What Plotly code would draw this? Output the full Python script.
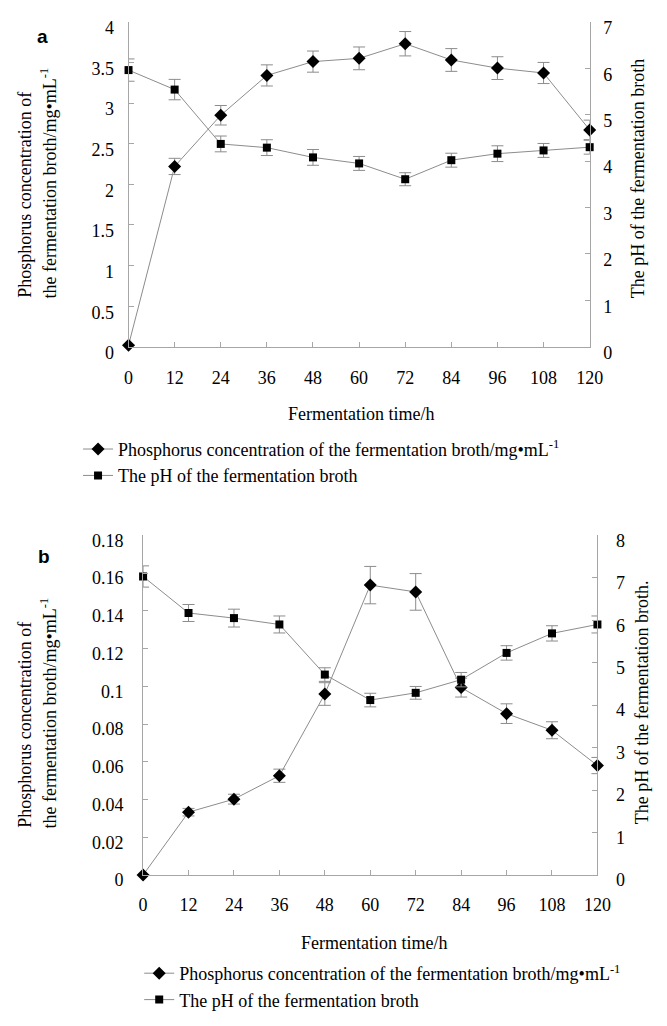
import plotly.graph_objects as go

# ---------------- data ----------------
time_h = [0, 12, 24, 36, 48, 60, 72, 84, 96, 108, 120]

a_phos = [0.02, 2.22, 2.85, 3.34, 3.51, 3.55, 3.73, 3.53, 3.43, 3.37, 2.67]
a_phos_err = [0.0, 0.10, 0.12, 0.13, 0.13, 0.14, 0.15, 0.14, 0.14, 0.13, 0.12]
a_ph = [5.96, 5.54, 4.37, 4.29, 4.08, 3.95, 3.61, 4.02, 4.16, 4.23, 4.30]
a_ph_err = [0.24, 0.22, 0.17, 0.17, 0.17, 0.15, 0.14, 0.15, 0.17, 0.15, 0.15]

b_phos = [0.0, 0.0333, 0.0402, 0.0526, 0.0959, 0.1536, 0.150, 0.0993, 0.0855, 0.0767, 0.058]
b_phos_err = [0.0, 0.002, 0.0026, 0.0035, 0.006, 0.0099, 0.0097, 0.005, 0.0052, 0.0045, 0.0043]
b_ph = [7.03, 6.17, 6.05, 5.90, 4.72, 4.12, 4.29, 4.60, 5.23, 5.69, 5.90]
b_ph_err = [0.25, 0.20, 0.21, 0.20, 0.16, 0.16, 0.15, 0.17, 0.17, 0.18, 0.20]

name_phos = "Phosphorus concentration of the fermentation broth/mg•mL<sup>-1</sup>"
name_ph = "The pH of the fermentation broth"

# ---------------- geometry helpers ----------------
# page body has an 8px default margin, so the figure is 16px smaller than the window
PAD = 8
W, H = 667 - 2 * PAD, 1026 - 2 * PAD
def fx(px):
    return (px - PAD) / W
def fy(py):
    return 1 - (py - PAD) / H

SERIF = "Liberation Serif"
LINE = "#8c8c8c"
AX = "#a6a6a6"

def series(x, y, err, xa, ya, symbol, size, name, legend):
    return go.Scatter(
        x=x, y=y, xaxis=xa, yaxis=ya, name=name, legend=legend,
        mode="lines+markers", cliponaxis=False,
        line=dict(color=LINE, width=1),
        marker=dict(symbol=symbol, size=size, color="black"),
        error_y=dict(type="data", array=err, color=LINE, thickness=1, width=6),
    )

fig = go.Figure()
fig.add_trace(series(time_h, a_phos, a_phos_err, "x", "y", "diamond", 10, name_phos, "legend"))
fig.add_trace(series(time_h, a_ph, a_ph_err, "x", "y2", "square", 8, name_ph, "legend"))
fig.add_trace(series(time_h, b_phos, b_phos_err, "x2", "y3", "diamond", 10, name_phos, "legend2"))
fig.add_trace(series(time_h, b_ph, b_ph_err, "x2", "y4", "square", 8, name_ph, "legend2"))

tickfont = dict(family=SERIF, size=18, color="black")
common = dict(showline=True, linecolor=AX, linewidth=1, ticks="inside", ticklen=5,
              tickcolor=AX, showgrid=False, zeroline=False, tickfont=tickfont)

fig.update_layout(
    width=W, height=H, margin=dict(l=0, r=0, t=0, b=0),
    paper_bgcolor="white", plot_bgcolor="white",
    font=dict(family=SERIF, size=18, color="black"),
    xaxis=dict(domain=[fx(127), fx(602)], range=[0, 120], tickvals=time_h,
               anchor="y", ticklabelstandoff=15, **common),
    yaxis=dict(domain=[fy(350), fy(17)], range=[0, 4], dtick=0.5, anchor="x",
               ticklabelstandoff=10, ticklabelshift=6, **common),
    yaxis2=dict(domain=[fy(350), fy(17)], range=[0, 7], dtick=1, anchor="x",
                overlaying="y", side="right", ticklabelstandoff=9, ticklabelshift=6, **common),
    xaxis2=dict(domain=[fx(142), fx(610)], range=[0, 120], tickvals=time_h,
                anchor="y3", ticklabelstandoff=13, **common),
    yaxis3=dict(domain=[fy(891), fy(543)], range=[0, 0.18], dtick=0.02, anchor="x2",
                ticklabelstandoff=15, ticklabelshift=5, **common),
    yaxis4=dict(domain=[fy(891), fy(543)], range=[0, 8], dtick=1, anchor="x2",
                overlaying="y3", side="right", ticklabelstandoff=14, ticklabelshift=5, **common),
    legend=dict(x=fx(75), y=fy(436), xanchor="left", yanchor="top",
                font=dict(family=SERIF, size=18, color="black"),
                bgcolor="rgba(0,0,0,0)", itemwidth=30),
    legend2=dict(x=fx(138), y=fy(973), xanchor="left", yanchor="top",
                 font=dict(family=SERIF, size=18, color="black"),
                 bgcolor="rgba(0,0,0,0)", itemwidth=30),
    showlegend=True,
)

def ann(text, x, y, xanchor="center", yanchor="middle", angle=0, font=None):
    fig.add_annotation(text=text, x=fx(x), y=fy(y), xref="paper", yref="paper",
                       xanchor=xanchor, yanchor=yanchor, textangle=angle,
                       showarrow=False, font=font or dict(family=SERIF, size=18, color="black"))

bold = dict(family="Liberation Sans", size=19, color="black")
ann("<b>a</b>", 38, 32, font=bold)
ann("<b>b</b>", 40, 565, font=bold)

# chart a titles
ann("Phosphorus concentration of", 20, 302, yanchor="bottom", angle=-90)
ann("the fermentation broth/mg•mL<sup>-1</sup>", 45, 302, yanchor="bottom", angle=-90)
ann(name_ph, 652, 178, angle=-90)
ann("Fermentation time/h", 366, 419)

# chart b titles
ann("Phosphorus concentration of", 20, 845, yanchor="bottom", angle=-90)
ann("the fermentation broth/mg•mL<sup>-1</sup>", 45, 845, yanchor="bottom", angle=-90)
ann("The pH of the fermentation broth.", 656, 714, angle=-90)
ann("Fermentation time/h", 380, 961)

fig.write_html("out.html")
